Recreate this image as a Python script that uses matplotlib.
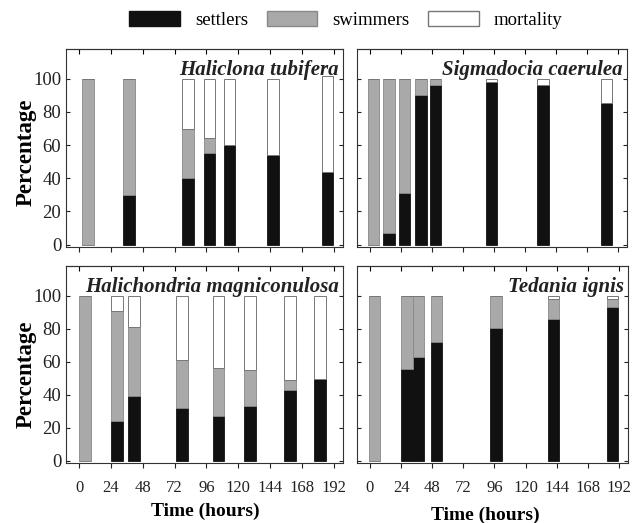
import matplotlib
matplotlib.use("Agg")
import matplotlib.pyplot as plt
from matplotlib.patches import Patch

plt.rcParams['font.family'] = ['Liberation Serif', 'DejaVu Serif']

# bar centres (hours) and percentages per species
ht_time = [6.8, 37.4, 81.9, 98.2, 113.3, 146.0, 187.2]
ht_settlers = [0, 30, 40, 55, 60, 54, 44]
ht_swimmers = [100, 70, 30, 9, 0, 0, 0]
ht_mortality = [0, 0, 30, 36, 40, 46, 58]

sc_time = [3.0, 14.7, 26.8, 39.6, 51.0, 94.0, 134.0, 183.0]
sc_settlers = [0, 7, 31, 90, 96, 98, 96, 85.5]
sc_swimmers = [100, 93, 69, 10, 4, 0, 0, 0]
sc_mortality = [0, 0, 0, 0, 0, 2, 4, 14.5]

hm_time = [4.5, 28.7, 41.5, 77.5, 105.0, 129.0, 159.0, 181.5]
hm_settlers = [0, 24, 39, 32, 27, 33, 43, 49.5]
hm_swimmers = [100, 67, 42, 29, 29, 22, 6, 0]
hm_mortality = [0, 9, 19, 39, 44, 45, 51, 50.5]

ti_time = [3.4, 28.7, 37.4, 51.3, 97.3, 141.7, 187.0]
ti_settlers = [0, 55.5, 63, 72, 80.5, 86, 93]
ti_swimmers = [100, 44.5, 37, 28, 19.5, 12, 5]
ti_mortality = [0, 0, 0, 0, 0, 2, 2]

xticks = [0, 24, 48, 72, 96, 120, 144, 168, 192]
yticks = [0, 20, 40, 60, 80, 100]

BLACK = '#111111'
GRAY = '#a9a9a9'

# name, data, pixel box, ylabel position, xlabel position
panels = [
    ("Haliclona tubifera", ht_time, ht_settlers, ht_swimmers, ht_mortality,
     [66, 49, 343, 247], (-0.105, 0.48), None),
    ("Sigmadocia caerulea", sc_time, sc_settlers, sc_swimmers, sc_mortality,
     [357, 49, 627, 247], None, None),
    ("Halichondria magniconulosa", hm_time, hm_settlers, hm_swimmers, hm_mortality,
     [66, 266, 343, 463], (-0.105, 0.45), (0.502, -0.2)),
    ("Tedania ignis", ti_time, ti_settlers, ti_swimmers, ti_mortality,
     [357, 266, 628, 463], None, (0.472, -0.22)),
]

W, H = 642, 523
fig = plt.figure(figsize=(W / 100, H / 100), dpi=100)

for name, t, s, w, m, box, ypos, xpos in panels:
    x0, y0, x1, y1 = box
    ax = fig.add_axes([x0 / W, 1 - y1 / H, (x1 - x0) / W, (y1 - y0) / H])
    bw = 8.8
    ax.bar(t, s, width=bw, color=BLACK, edgecolor=BLACK, linewidth=0.6)
    ax.bar(t, w, bottom=s, width=bw, color=GRAY, edgecolor='#888888', linewidth=0.6)
    bot = [a + b for a, b in zip(s, w)]
    ax.bar(t, m, bottom=bot, width=bw, color='white', edgecolor='#777777', linewidth=0.7)
    ax.set_xlim(-10, 199)
    ax.set_ylim(-1.5, 118)
    ax.set_xticks(xticks)
    ax.set_yticks(yticks)
    ax.tick_params(axis='x', direction='out', length=3.5, width=0.8,
                   labelsize=12, colors='#222222', pad=9)
    ax.tick_params(axis='y', direction='in', right=True, length=3, width=0.8,
                   labelsize=13.5, colors='#222222')
    top = ax.secondary_xaxis('top')
    top.set_xticks(xticks)
    top.tick_params(direction='in', length=3.5, width=0.8, labeltop=False)
    for side in list(ax.spines.values()) + [top.spines['top']]:
        side.set_linewidth(0.8)
        side.set_color('#333333')
    if xpos is None:
        ax.set_xticklabels([])
    else:
        ax.set_xlabel("Time (hours)", fontsize=14, fontweight='bold')
        ax.xaxis.set_label_coords(*xpos)
    if ypos is None:
        ax.set_yticklabels([])
    else:
        ax.set_ylabel("Percentage", fontsize=16.5, fontweight='bold')
        ax.yaxis.set_label_coords(*ypos)
    ax.text(0.985, 0.945, name, transform=ax.transAxes, ha='right', va='top',
            fontsize=15, fontweight='bold', fontstyle='italic', color='#222222')

handles = [Patch(facecolor=BLACK, edgecolor=BLACK, label='settlers'),
           Patch(facecolor=GRAY, edgecolor='#888888', label='swimmers'),
           Patch(facecolor='white', edgecolor='#777777', label='mortality')]
fig.legend(handles=handles, loc='center', bbox_to_anchor=(0.539, 1 - 20 / H),
           ncol=3, frameon=False, fontsize=13.5, handlelength=2.7, handleheight=0.85,
           columnspacing=1.0, handletextpad=0.8)

fig.savefig("out.png", dpi=100)
